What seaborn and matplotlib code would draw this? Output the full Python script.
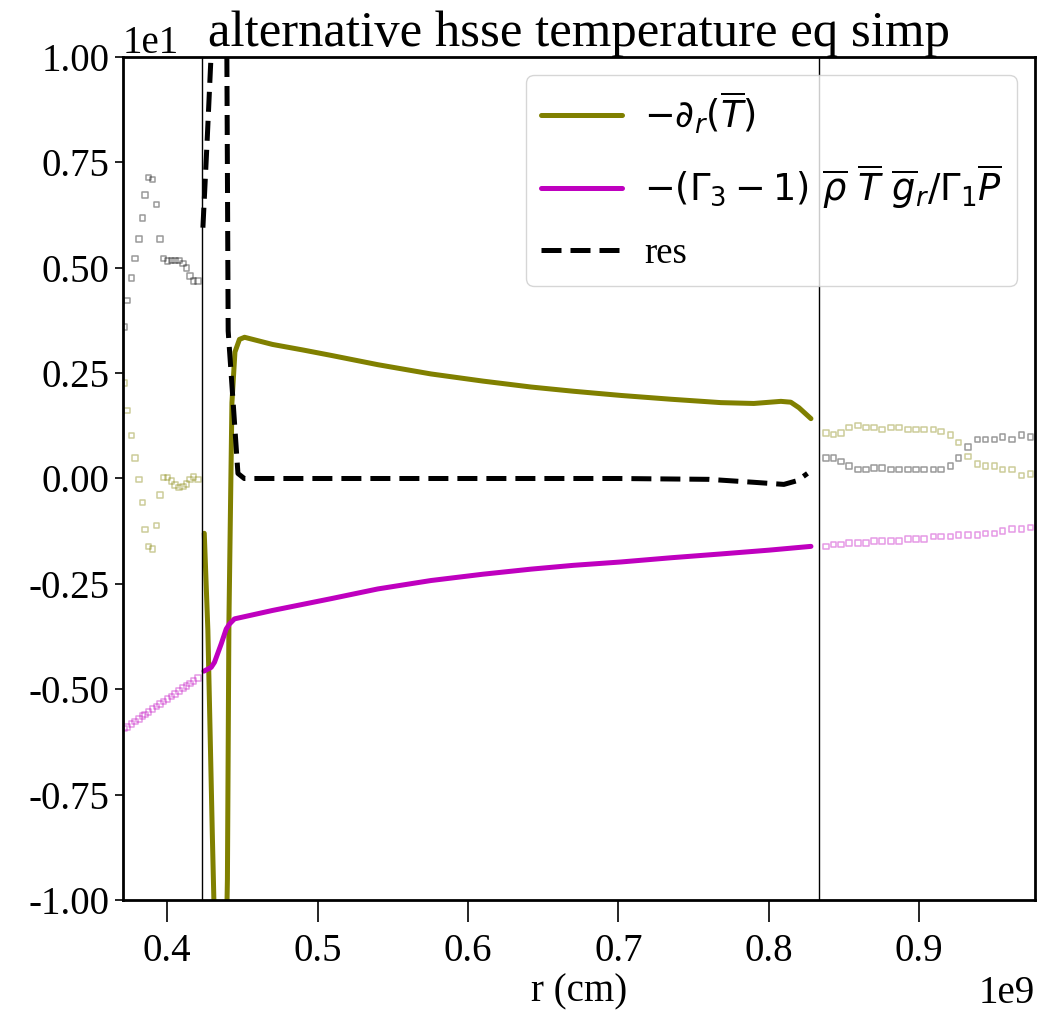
import numpy as np
import matplotlib
matplotlib.use("Agg")
import matplotlib.pyplot as plt
import seaborn as sns

# radius in units of 1e9 cm, values in plain units (axis shows 1e1)
r_dT = [0.4246, 0.4270, 0.4300, 0.4330, 0.4360, 0.4385, 0.4400, 0.4410, 0.4430, 0.4450,
        0.4480, 0.4514, 0.4700, 0.4900, 0.5090, 0.5400, 0.5754, 0.6100, 0.6419, 0.6700,
        0.7017, 0.7350, 0.7681, 0.7900, 0.8080, 0.8146, 0.8200, 0.8280]
dT = [-1.3, -3.6, -8.5, -13.0, -14.5, -12.5, -9.5, -3.4, 1.8, 3.0,
      3.3, 3.35, 3.18, 3.05, 2.92, 2.70, 2.48, 2.31, 2.17, 2.07,
      1.97, 1.88, 1.80, 1.78, 1.83, 1.81, 1.68, 1.42]

r_grav = [0.4244, 0.4292, 0.4314, 0.4359, 0.4392, 0.4414, 0.4447, 0.4700, 0.5090, 0.5400,
          0.5754, 0.6100, 0.6419, 0.6700, 0.7017, 0.7350, 0.7681, 0.8000, 0.8280]
grav = [-4.57, -4.48, -4.36, -3.92, -3.57, -3.45, -3.33, -3.13, -2.85, -2.62,
        -2.42, -2.27, -2.15, -2.06, -1.98, -1.88, -1.79, -1.70, -1.61]

r_res = [0.4237, 0.4265, 0.4292, 0.4330, 0.4360, 0.4395, 0.4405, 0.4440, 0.4470, 0.4512,
         0.5000, 0.6000, 0.7000, 0.7600, 0.7900, 0.8100, 0.8190, 0.8257]
res = [5.95, 8.0, 10.1, 14.0, 15.0, 11.0, 3.5, 1.7, 0.12, 0.0,
       0.0, 0.0, 0.0, -0.02, -0.09, -0.14, -0.05, 0.12]

# outside the averaging window (hollow squares)
r_left = [0.3716, 0.3734, 0.3761, 0.3785, 0.3812, 0.3834, 0.3852, 0.3874, 0.3902, 0.3927,
          0.3951, 0.3975, 0.4002, 0.4027, 0.4051, 0.4078, 0.4106, 0.4128, 0.4153, 0.4175, 0.4204]
dT_left = [2.26, 1.61, 1.02, 0.48, -0.02, -0.57, -1.21, -1.61, -1.67, -1.12,
           -0.39, 0.02, 0.02, -0.06, -0.15, -0.21, -0.19, -0.13, -0.02, 0.03, -0.02]
grav_left = [-5.93, -5.89, -5.82, -5.76, -5.70, -5.64, -5.60, -5.54, -5.47, -5.41,
             -5.35, -5.29, -5.23, -5.17, -5.11, -5.04, -4.97, -4.92, -4.86, -4.80, -4.73]
res_left = [3.59, 4.22, 4.76, 5.22, 5.68, 6.18, 6.73, 7.14, 7.09, 6.50,
            5.68, 5.22, 5.16, 5.17, 5.17, 5.17, 5.10, 4.99, 4.81, 4.68, 4.68]

r_right = [0.8379, 0.8430, 0.8480, 0.8534, 0.8593, 0.8647, 0.8700, 0.8751, 0.8811, 0.8864,
           0.8926, 0.8979, 0.9032, 0.9094, 0.9145, 0.9209, 0.9260, 0.9324, 0.9387, 0.9440,
           0.9500, 0.9553, 0.9615, 0.9679, 0.9741]
dT_right = [1.08, 1.04, 1.08, 1.21, 1.26, 1.21, 1.21, 1.16, 1.21, 1.21,
            1.16, 1.16, 1.16, 1.16, 1.12, 1.03, 0.85, 0.52, 0.35, 0.30,
            0.30, 0.21, 0.21, 0.07, 0.11]
grav_right = [-1.61, -1.57, -1.57, -1.53, -1.53, -1.53, -1.48, -1.48, -1.48, -1.48,
              -1.43, -1.43, -1.43, -1.38, -1.38, -1.38, -1.34, -1.34, -1.34, -1.30,
              -1.30, -1.25, -1.20, -1.20, -1.16]
res_right = [0.48, 0.48, 0.40, 0.30, 0.21, 0.21, 0.25, 0.25, 0.21, 0.21,
             0.21, 0.21, 0.21, 0.21, 0.21, 0.30, 0.48, 0.75, 0.93, 0.93,
             0.93, 0.98, 0.93, 1.03, 0.98]

r_window = [0.4233, 0.8335]

sns.set_style("ticks")
plt.rcParams['font.family'] = ['Liberation Serif', 'DejaVu Serif']
plt.rcParams['mathtext.fontset'] = 'dejavusans'
plt.rcParams['axes.unicode_minus'] = False
for key in ['text.color', 'axes.labelcolor', 'xtick.color', 'ytick.color', 'axes.edgecolor']:
    plt.rcParams[key] = 'black'

fig = plt.figure(figsize=(10.58, 10.17), dpi=100)
ax = fig.add_axes([0.1163, 0.115, 0.862, 0.829])

e9 = 1e9
lw = 3.6
sns.lineplot(x=np.array(r_dT) * e9, y=dT, ax=ax, color='olive', lw=lw, sort=False,
             estimator=None, label=r'$-\partial_r(\overline{T})$')
sns.lineplot(x=np.array(r_grav) * e9, y=grav, ax=ax, color='m', lw=lw, sort=False,
             estimator=None, label=r'$-(\Gamma_3 - 1)\ \overline{\rho}\ \overline{T}\ \overline{g}_r/\Gamma_1\overline{P}$')
sns.lineplot(x=np.array(r_res) * e9, y=res, ax=ax, color='k', lw=lw, sort=False,
             estimator=None, label='res', linestyle='--')
ax.lines[-1].set_dashes((4.0, 1.8))

for rr, vals, col in [(r_left, dT_left, 'olive'), (r_right, dT_right, 'olive'),
                      (r_left, grav_left, 'm'), (r_right, grav_right, 'm'),
                      (r_left, res_left, 'k'), (r_right, res_right, 'k')]:
    sns.scatterplot(x=np.array(rr) * e9, y=vals, ax=ax, marker='s', facecolor='none',
                    edgecolor=col, s=16, linewidth=1.1, alpha=0.4, legend=False, zorder=1)

for rw in r_window:
    ax.axvline(rw * e9, color='k', lw=1.0)

ax.set_xlim(0.3706e9, 0.977e9)
ax.set_ylim(-10, 10)
ax.set_yticks(np.arange(-10, 10.1, 2.5))
ax.ticklabel_format(axis='x', style='sci', scilimits=(9, 9))
ax.ticklabel_format(axis='y', style='sci', scilimits=(1, 1))
ax.tick_params(axis='y', labelsize=28, length=6, width=1.2)
ax.tick_params(axis='x', labelsize=28, length=16, width=1.2, pad=8)
ax.xaxis.get_offset_text().set_fontsize(28)
ax.yaxis.get_offset_text().set_fontsize(28)
for sp in ax.spines.values():
    sp.set_visible(True)
    sp.set_linewidth(2.0)

ax.set_xlabel('r (cm)', fontsize=28, labelpad=2)
ax.set_ylabel('')
ax.set_title('alternative hsse temperature eq simp', fontsize=36.5, pad=2)
ax.legend(loc='upper right', fontsize=26.5, handlelength=2.2, handletextpad=0.6,
          labelspacing=0.7, borderaxespad=0.5)

fig.savefig('out.png', dpi=100)
